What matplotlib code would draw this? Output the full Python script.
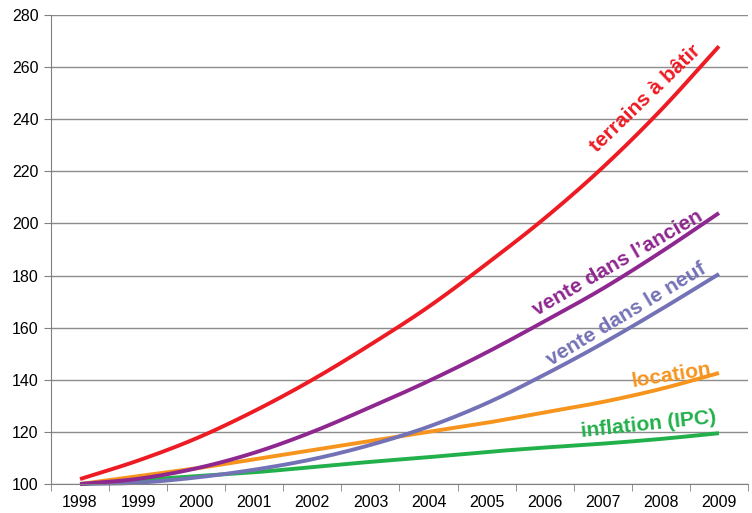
import numpy as np
import matplotlib.pyplot as plt

plt.rcParams['font.family'] = ['Liberation Sans', 'DejaVu Sans']

years = ['1998', '1999', '2000', '2001', '2002', '2003', '2004', '2005', '2006', '2007', '2008', '2009']

# indices base 100 en 1998
terrains = [101.9, 109, 117.5, 128, 140, 153.5, 168, 184.5, 202, 221.5, 243.5, 268]
ancien = [100, 102, 106, 112, 120, 129.5, 139.5, 150.5, 162.5, 175, 189, 204]
neuf = [100, 100.5, 102.5, 105.5, 109.5, 115, 122, 131, 142, 154, 167, 180.6]
location = [100, 103, 106, 109.5, 113, 116.5, 120, 123.5, 127.5, 131.5, 136.5, 142.6]
inflation = [100, 101.5, 103, 104.5, 106.5, 108.5, 110.3, 112.3, 114, 115.5, 117.3, 119.5]


def smooth(y, n=20):
    # Catmull-Rom curve through the yearly points
    y = np.asarray(y, dtype=float)
    p = np.concatenate([[2 * y[0] - y[1]], y, [2 * y[-1] - y[-2]]])
    xs, ys = [], []
    t = np.linspace(0, 1, n, endpoint=False)
    for i in range(1, len(p) - 2):
        p0, p1, p2, p3 = p[i - 1], p[i], p[i + 1], p[i + 2]
        seg = 0.5 * (2 * p1 + (-p0 + p2) * t + (2 * p0 - 5 * p1 + 4 * p2 - p3) * t ** 2
                     + (-p0 + 3 * p1 - 3 * p2 + p3) * t ** 3)
        xs.append(i - 1 + t)
        ys.append(seg)
    xs.append([len(y) - 1])
    ys.append([y[-1]])
    return np.concatenate(xs), np.concatenate(ys)


# (valeurs, couleur, libellé, position du libellé, angle)
series = [
    (inflation, '#22b04b', 'inflation (IPC)', (9.78, 123.0), 6),
    (location, '#f7941d', 'location', (10.18, 141.8), 9),
    (neuf, '#7472b6', 'vente dans le neuf', (9.40, 165.2), 31),
    (ancien, '#8e278f', "vente dans l\u2019ancien", (9.25, 184.9), 30),
    (terrains, '#ed1c24', 'terrains à bâtir', (9.73, 248.1), 44),
]

fig = plt.figure(figsize=(7.52, 5.13), dpi=100)
ax = fig.add_axes([0.0678, 0.0565, 0.9269, 0.9143])

ax.set_ylim(100, 280)
ax.set_yticks(np.arange(100, 281, 20))
ax.set_xlim(-0.5, 11.5)
ax.set_xticks(range(len(years)))
ax.set_xticklabels(years)
ax.set_xticks(np.arange(-0.5, 11.6, 1), minor=True)
ax.tick_params(axis='x', which='major', length=0, pad=8, labelsize=11.5)
ax.tick_params(axis='x', which='minor', length=5, color='#808080', direction='out')
ax.tick_params(axis='y', length=5, color='#808080', labelsize=11.5, pad=4)

ax.grid(axis='y', color='#8c8c8c', linewidth=1)
ax.set_axisbelow(True)
for side in ['top', 'right']:
    ax.spines[side].set_visible(False)
ax.spines['left'].set_color('#808080')
ax.spines['bottom'].set_color('#808080')

for vals, col, name, pos, rot in series:
    xs, ys = smooth(vals)
    ax.plot(xs, ys, color=col, linewidth=2.8, solid_capstyle='butt', clip_on=False)
    ax.text(pos[0], pos[1], name, color=col, fontsize=15, fontweight='bold',
            rotation=rot, rotation_mode='anchor', ha='center', va='center')

fig.savefig('out.png', dpi=100)
